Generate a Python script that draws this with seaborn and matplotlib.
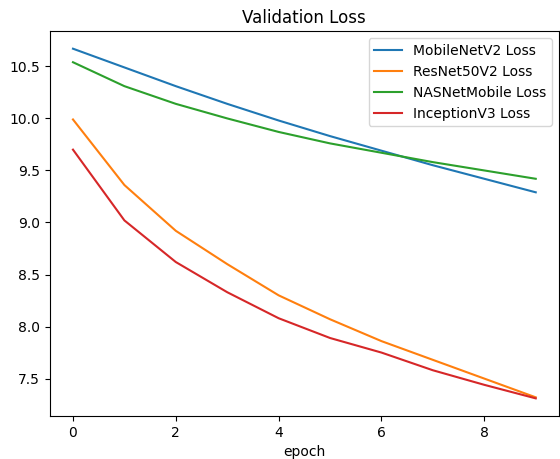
import matplotlib
matplotlib.use("Agg")
import matplotlib.pyplot as plt
import seaborn as sns
import pandas as pd

epochs = list(range(10))
mobilenet = [10.67, 10.49, 10.31, 10.14, 9.98, 9.83, 9.69, 9.55, 9.42, 9.29]
resnet = [9.99, 9.36, 8.92, 8.60, 8.30, 8.07, 7.86, 7.68, 7.50, 7.32]
nasnet = [10.54, 10.31, 10.14, 10.00, 9.87, 9.76, 9.67, 9.58, 9.50, 9.42]
inception = [9.70, 9.02, 8.62, 8.33, 8.08, 7.89, 7.75, 7.58, 7.44, 7.31]
series_names = ["MobileNetV2 Loss", "ResNet50V2 Loss", "NASNetMobile Loss", "InceptionV3 Loss"]

df = pd.DataFrame({
    "epoch": epochs * 4,
    "loss": mobilenet + resnet + nasnet + inception,
    "model": sum([[n] * len(epochs) for n in series_names], []),
})

fig, ax = plt.subplots(figsize=(5.6, 4.59), dpi=100)
sns.lineplot(data=df, x="epoch", y="loss", hue="model", hue_order=series_names,
             palette=["#1f77b4", "#ff7f0e", "#2ca02c", "#d62728"], ax=ax)
ax.set_title("Validation Loss")
ax.set_xlabel("epoch")
ax.set_ylabel("")
ax.legend(loc="upper right")
fig.subplots_adjust(left=0.089, right=0.998, top=0.932, bottom=0.094)
fig.savefig("out.png", dpi=100)
